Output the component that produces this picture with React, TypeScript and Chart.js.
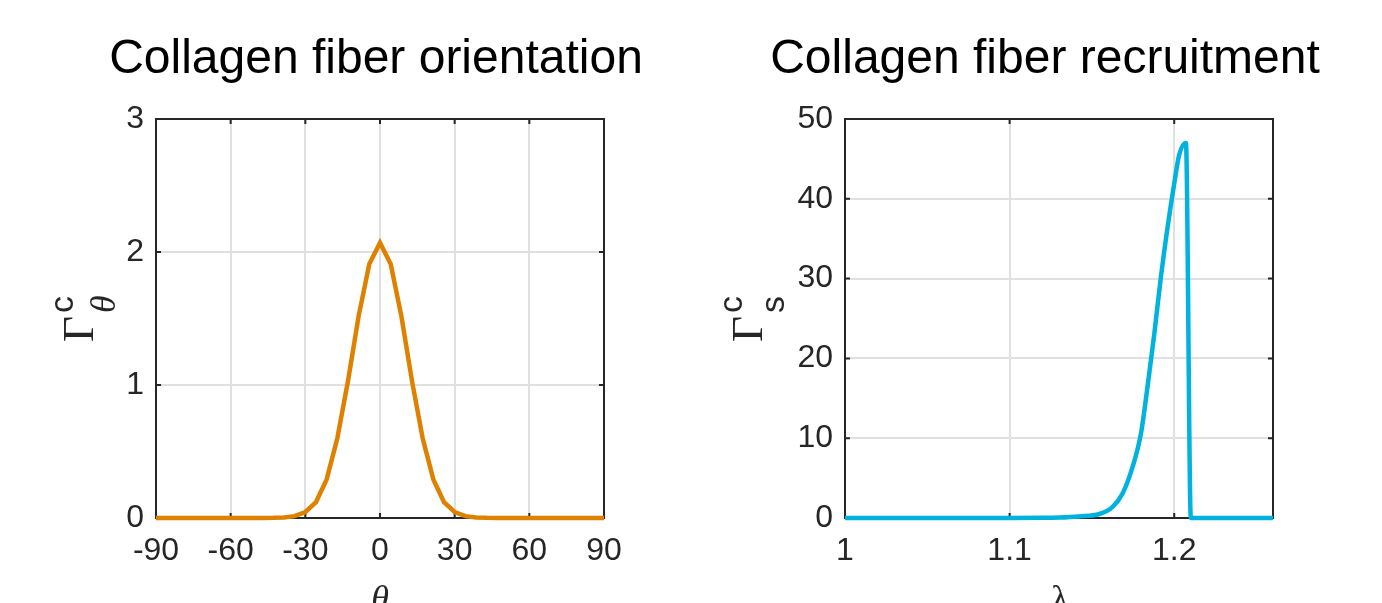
import React, { useEffect, useRef } from "react";
import { Chart, registerables } from "chart.js";

Chart.register(...registerables);

// ---- Data: left panel (fiber orientation) ----
const THETA = [
  -90, -85.71, -81.43, -77.14, -72.86, -68.57, -64.29, -60, -55.71, -51.43, -47.14,
  -42.86, -38.57, -34.29, -30, -25.71, -21.43, -17.14, -12.86, -8.57, -4.29,
  0,
  4.29, 8.57, 12.86, 17.14, 21.43, 25.71, 30, 34.29, 38.57, 42.86,
  47.14, 51.43, 55.71, 60, 64.29, 68.57, 72.86, 77.14, 81.43, 85.71, 90,
];
const GAMMA_THETA = [
  0, 0, 0, 0, 0, 0, 0, 0, 0, 0, 0,
  0.001, 0.004, 0.014, 0.045, 0.12, 0.29, 0.6, 1.03, 1.52, 1.91,
  2.07,
  1.91, 1.52, 1.03, 0.6, 0.29, 0.12, 0.045, 0.014, 0.004, 0.001,
  0, 0, 0, 0, 0, 0, 0, 0, 0, 0, 0,
];
const THETA_TICKS = [-90, -60, -30, 0, 30, 60, 90];
const THETA_TICK_LABELS = ["-90", "-60", "-30", "0", "30", "60", "90"];
const GAMMA_THETA_TICKS = [0, 1, 2, 3];
const GAMMA_THETA_TICK_LABELS = ["0", "1", "2", "3"];

// ---- Data: right panel (fiber recruitment) ----
const LAMBDA = [
  1.0, 1.1, 1.12, 1.13, 1.142, 1.1545, 1.1626, 1.1687, 1.1747, 1.1798, 1.1838,
  1.1879, 1.1919, 1.196, 1.2, 1.203, 1.2071, 1.2101, 1.26,
];
const GAMMA_S = [
  0, 0, 0.02, 0.06, 0.2, 0.5, 1.4, 3.1, 6.4, 10.6, 16.5,
  23.1, 30.2, 36.5, 41.9, 45.5, 47.0, 0, 0,
];
const LAMBDA_TICKS = [1, 1.1, 1.2];
const LAMBDA_TICK_LABELS = ["1", "1.1", "1.2"];
const GAMMA_S_TICKS = [0, 10, 20, 30, 40, 50];
const GAMMA_S_TICK_LABELS = ["0", "10", "20", "30", "40", "50"];

const TITLES = ["Collagen fiber orientation", "Collagen fiber recruitment"];

const SANS = "'Liberation Sans', Arial, Helvetica, sans-serif";
const SERIF = "'Liberation Serif', 'Times New Roman', 'DejaVu Serif', serif";
const AXIS_COLOR = "#262626";
const GRID_COLOR = "#e0e0e0";

type PanelCfg = {
  xs: number[];
  ys: number[];
  color: string;
  xMin: number;
  xMax: number;
  yMin: number;
  yMax: number;
  xTicks: number[];
  xLabels: string[];
  yTicks: number[];
  yLabels: string[];
  chartLeft: number;
  padRight: number;
  title: string;
  titleX: number;
  gammaX: number;
  sub: string;
  subItalic: boolean;
  xLabel: string;
  xLabelItalic: boolean;
  xLabelX: number;
  smooth: boolean;
};

function makeChart(canvas: HTMLCanvasElement, c: PanelCfg) {
  const boxPlugin = {
    id: "boxTicks",
    beforeDatasetsDraw(chart: any) {
      const { ctx, chartArea } = chart;
      const xs = chart.scales.x;
      const ys = chart.scales.y;
      const L = 5;
      ctx.save();
      ctx.strokeStyle = AXIS_COLOR;
      ctx.lineWidth = 2;
      ctx.strokeRect(chartArea.left, chartArea.top, chartArea.right - chartArea.left, chartArea.bottom - chartArea.top);
      ctx.beginPath();
      for (const v of c.xTicks) {
        const px = xs.getPixelForValue(v);
        ctx.moveTo(px, chartArea.bottom);
        ctx.lineTo(px, chartArea.bottom - L);
        ctx.moveTo(px, chartArea.top);
        ctx.lineTo(px, chartArea.top + L);
      }
      for (const v of c.yTicks) {
        const py = ys.getPixelForValue(v);
        ctx.moveTo(chartArea.left, py);
        ctx.lineTo(chartArea.left + L, py);
        ctx.moveTo(chartArea.right, py);
        ctx.lineTo(chartArea.right - L, py);
      }
      ctx.stroke();
      ctx.restore();
    },
    afterDraw(chart: any) {
      const { ctx } = chart;
      ctx.save();
      // title
      ctx.fillStyle = "#000000";
      ctx.font = `48px ${SANS}`;
      ctx.textAlign = "center";
      ctx.textBaseline = "alphabetic";
      ctx.fillText(c.title, c.titleX, 73);
      // y label (rotated)
      ctx.fillStyle = AXIS_COLOR;
      ctx.translate(c.gammaX, 342);
      ctx.rotate(-Math.PI / 2);
      ctx.textAlign = "left";
      ctx.font = `45px ${SERIF}`;
      ctx.fillText("Γ", 0, 0);
      ctx.font = `34px ${SANS}`;
      ctx.fillText("c", 29, -20);
      ctx.font = c.subItalic ? `italic 36px ${SERIF}` : `34px ${SANS}`;
      ctx.fillText(c.sub, 29, 22);
      ctx.restore();
      // x label
      ctx.save();
      ctx.fillStyle = AXIS_COLOR;
      ctx.textAlign = "center";
      ctx.textBaseline = "alphabetic";
      ctx.font = c.xLabelItalic ? `italic 36px ${SERIF}` : `36px ${SERIF}`;
      ctx.fillText(c.xLabel, c.xLabelX, 610);
      ctx.restore();
    },
  };

  const points = c.xs.map((x, i) => ({ x, y: c.ys[i] }));

  return new Chart(canvas, {
    type: "line",
    data: {
      datasets: [
        {
          data: points,
          borderColor: c.color,
          borderWidth: 4.5,
          pointRadius: 0,
          fill: false,
          tension: 0,
          cubicInterpolationMode: c.smooth ? "monotone" : "default",
          clip: false,
        } as any,
      ],
    },
    options: {
      responsive: false,
      animation: false,
      events: [],
      layout: { padding: { top: 119, left: 0, right: c.padRight, bottom: 0 } },
      plugins: { legend: { display: false }, tooltip: { enabled: false }, title: { display: false } },
      scales: {
        x: {
          type: "linear",
          min: c.xMin,
          max: c.xMax,
          afterBuildTicks: (s: any) => {
            s.ticks = c.xTicks.map((v) => ({ value: v }));
          },
          afterFit: (s: any) => {
            s.height = 85;
          },
          grid: { color: GRID_COLOR, lineWidth: 2, drawTicks: false },
          border: { display: false },
          ticks: {
            autoSkip: false,
            maxRotation: 0,
            color: AXIS_COLOR,
            padding: 14,
            font: { family: SANS, size: 32 },
            callback: (_v: any, i: number) => c.xLabels[i],
          },
        },
        y: {
          type: "linear",
          min: c.yMin,
          max: c.yMax,
          afterBuildTicks: (s: any) => {
            s.ticks = c.yTicks.map((v) => ({ value: v }));
          },
          afterFit: (s: any) => {
            s.width = c.chartLeft;
          },
          grid: { color: GRID_COLOR, lineWidth: 2, drawTicks: false },
          border: { display: false },
          ticks: {
            autoSkip: false,
            color: AXIS_COLOR,
            padding: 12,
            font: { family: SANS, size: 32 },
            callback: (_v: any, i: number) => c.yLabels[i],
          },
        },
      },
    },
    plugins: [boxPlugin],
  } as any);
}

export default function App() {
  const leftRef = useRef<HTMLCanvasElement>(null);
  const rightRef = useRef<HTMLCanvasElement>(null);

  useEffect(() => {
    const left = makeChart(leftRef.current!, {
      xs: THETA,
      ys: GAMMA_THETA,
      color: "#df8100",
      xMin: -90,
      xMax: 90,
      yMin: 0,
      yMax: 3,
      xTicks: THETA_TICKS,
      xLabels: THETA_TICK_LABELS,
      yTicks: GAMMA_THETA_TICKS,
      yLabels: GAMMA_THETA_TICK_LABELS,
      chartLeft: 156,
      padRight: 87,
      title: TITLES[0],
      titleX: 376,
      gammaX: 93,
      sub: "θ",
      subItalic: true,
      xLabel: "θ",
      xLabelItalic: true,
      xLabelX: 380,
      smooth: false,
    });
    const right = makeChart(rightRef.current!, {
      xs: LAMBDA,
      ys: GAMMA_S,
      color: "#00b3df",
      xMin: 1,
      xMax: 1.26,
      yMin: 0,
      yMax: 50,
      xTicks: LAMBDA_TICKS,
      xLabels: LAMBDA_TICK_LABELS,
      yTicks: GAMMA_S_TICKS,
      yLabels: GAMMA_S_TICK_LABELS,
      chartLeft: 154,
      padRight: 109,
      title: TITLES[1],
      titleX: 354,
      gammaX: 71,
      sub: "s",
      subItalic: false,
      xLabel: "λ",
      xLabelItalic: false,
      xLabelX: 369,
      smooth: true,
    });
    return () => {
      left.destroy();
      right.destroy();
    };
  }, []);

  return (
    <div style={{ position: "fixed", left: 0, top: 0, width: 1382, height: 603, background: "#ffffff", overflow: "hidden" }}>
      <canvas ref={leftRef} width={691} height={603} style={{ position: "absolute", left: 0, top: 0, width: 691, height: 603 }} />
      <canvas ref={rightRef} width={691} height={603} style={{ position: "absolute", left: 691, top: 0, width: 691, height: 603 }} />
    </div>
  );
}
